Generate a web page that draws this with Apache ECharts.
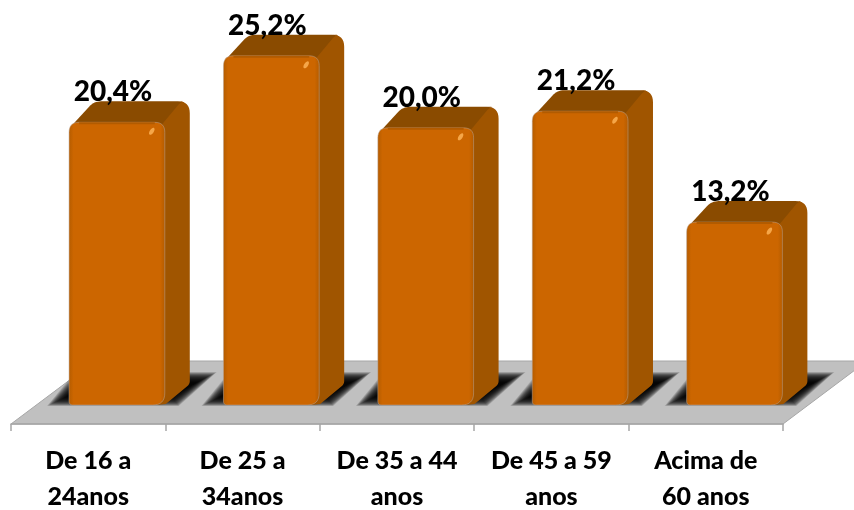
<!DOCTYPE html>
<html>
<head>
<meta charset="utf-8">
<style>
  html, body { margin: 0; padding: 0; background: #fff; }
  #main { width: 854px; height: 510px; }
</style>
<script src="https://cdn.jsdelivr.net/npm/echarts@6/dist/echarts.min.js"></script>
</head>
<body>
<div id="main"></div>
<script>
var categories = ["De 16 a\n24anos", "De 25 a\n34anos", "De 35 a 44\nanos", "De 45 a 59\nanos", "Acima de\n60 anos"];
var values = [20.4, 25.2, 20.0, 21.2, 13.2];

var FONT = "Lato, Carlito, sans-serif";
var DEPTH_X = 25, DEPTH_Y = 21;

// polygon with rounded corners: pts = [x, y, radius]
function roundPoly(pts) {
  var out = [];
  var n = pts.length;
  for (var i = 0; i < n; i++) {
    var p = pts[i], a = pts[(i + n - 1) % n], b = pts[(i + 1) % n];
    var r = p[2] || 0;
    if (!r) { out.push([p[0], p[1]]); continue; }
    var la = Math.hypot(a[0] - p[0], a[1] - p[1]), lb = Math.hypot(b[0] - p[0], b[1] - p[1]);
    var s = [p[0] + (a[0] - p[0]) * r / la, p[1] + (a[1] - p[1]) * r / la];
    var e = [p[0] + (b[0] - p[0]) * r / lb, p[1] + (b[1] - p[1]) * r / lb];
    for (var t = 0; t <= 8; t++) {
      var u = t / 8, v = 1 - u;
      out.push([v * v * s[0] + 2 * u * v * p[0] + u * u * e[0], v * v * s[1] + 2 * u * v * p[1] + u * u * e[1]]);
    }
  }
  return out;
}

function renderFloor(params, api) {
  var band = api.size([1, 0])[0];
  var left = api.coord([0, 0])[0] - band / 2;
  var right = api.coord([categories.length - 1, 0])[0] + band / 2;
  var y0 = api.coord([0, 0])[1];
  return {
    type: "polygon",
    shape: { points: [[left, y0 + 19], [right, y0 + 19], [right + 84, y0 - 44], [left + 84, y0 - 44]] },
    style: { fill: "#c0c0c0", stroke: "#a6a6a6", lineWidth: 1 }
  };
}

// soft floor shadow, stacked translucent layers from the outer fade to the dark core
function renderShadow(params, api) {
  var c = api.coord([api.value(0), 0]);
  var band = api.size([1, 0])[0];
  var x = c[0] - band * 0.124, r = x + band * 0.62, y0 = c[1];
  var outer = [[x - 22, y0 + 1], [r + 14, y0 + 1], [r + 52, y0 - 33], [x + 6, y0 - 33]];
  var inner = [[x - 1, y0 - 9], [r + 6, y0 - 9], [r + 31, y0 - 22], [x + 18, y0 - 22]];
  var layers = [];
  for (var k = 0; k < 24; k++) {
    var t = k / 23;
    layers.push({
      type: "polygon",
      shape: { points: outer.map(function (p, j) {
        return [p[0] + (inner[j][0] - p[0]) * t, p[1] + (inner[j][1] - p[1]) * t];
      }) },
      style: { fill: "rgba(0,0,0,0.12)" }
    });
  }
  return { type: "group", children: layers };
}

function renderBar(params, api) {
  var i = api.value(0), v = api.value(1);
  var c = api.coord([i, v]), base = api.coord([i, 0]);
  var band = api.size([1, 0])[0];
  var w = band * 0.62;
  var x = c[0] - band * 0.124;
  var top = c[1], y0 = base[1];
  var r = x + w;
  return {
    type: "group",
    children: [
      // top face
      { type: "polygon", shape: { points: roundPoly([[x + 3, top + 3, 0], [x + DEPTH_X, top - DEPTH_Y, 7], [r + DEPTH_X, top - DEPTH_Y, 12], [r, top + 3, 0]]) },
        style: { fill: "#8a4b00" } },
      // side face
      { type: "polygon", shape: { points: roundPoly([[r - 6, top + 6, 0], [r + 14, top - DEPTH_Y + 3, 0], [r + 18, top - DEPTH_Y, 0], [r + DEPTH_X, top - DEPTH_Y, 12], [r + DEPTH_X, y0 - DEPTH_Y, 3], [r + 1, y0 - 1, 0], [r - 8, y0, 0]]) },
        style: { fill: "#a05500" } },
      // front face
      { type: "polygon", shape: { points: roundPoly([[x, top, 10], [r, top, 10], [r, y0, 12], [x, y0, 4]]) },
        style: { fill: { type: "linear", x: 0, y: 0, x2: 1, y2: 0, colorStops: [
            { offset: 0, color: "#b45c00" }, { offset: 0.05, color: "#cc6600" }, { offset: 0.95, color: "#cc6600" }, { offset: 1, color: "#b45c00" }] },
          stroke: "#b9a79a", lineWidth: 0.5 } },
      { type: "line", shape: { x1: x + 10, y1: top + 1, x2: r - 10, y2: top + 1 }, style: { stroke: "#b25b00", lineWidth: 2 } },
      // highlight on the corner
      { type: "ellipse", shape: { cx: r - 13, cy: top + 9, rx: 2, ry: 4 }, rotation: -0.6, originX: r - 13, originY: top + 9,
        style: { fill: "#f5a648" } },
      // value label
      { type: "text", x: x + w / 2 - 4, y: top - 30,
        style: { text: v.toFixed(1).replace(".", ",") + "%", font: "900 28px " + FONT, fill: "#000", align: "center", verticalAlign: "middle" } }
    ]
  };
}

var seriesData = values.map(function (v, i) { return [i, v]; });
var chart = echarts.init(document.getElementById("main"), null, { renderer: "canvas" });
chart.setOption({
  animation: false,
  grid: { left: 11, right: 71, top: 17, bottom: 105, outerBoundsMode: "none" },
  xAxis: {
    type: "category",
    data: categories,
    offset: 19,
    z: 10,
    boundaryGap: true,
    axisLine: { show: true, onZero: false, lineStyle: { color: "#a6a6a6", width: 1.5 } },
    axisTick: { show: true, length: 7, lineStyle: { color: "#a6a6a6", width: 1.5 } },
    axisLabel: { color: "#000", fontFamily: FONT, fontWeight: 900, fontSize: 25, lineHeight: 36, margin: 19, interval: 0 }
  },
  yAxis: { type: "value", min: 0, max: 28, show: false, splitLine: { show: false } },
  series: [
    { type: "custom", renderItem: renderFloor, data: [[0, 0]], clip: false, silent: true, z: 1 },
    { type: "custom", renderItem: renderShadow, data: seriesData, clip: false, silent: true, z: 2 },
    { type: "custom", renderItem: renderBar, data: seriesData, clip: false, silent: true, z: 3 }
  ]
});
</script>
</body>
</html>
